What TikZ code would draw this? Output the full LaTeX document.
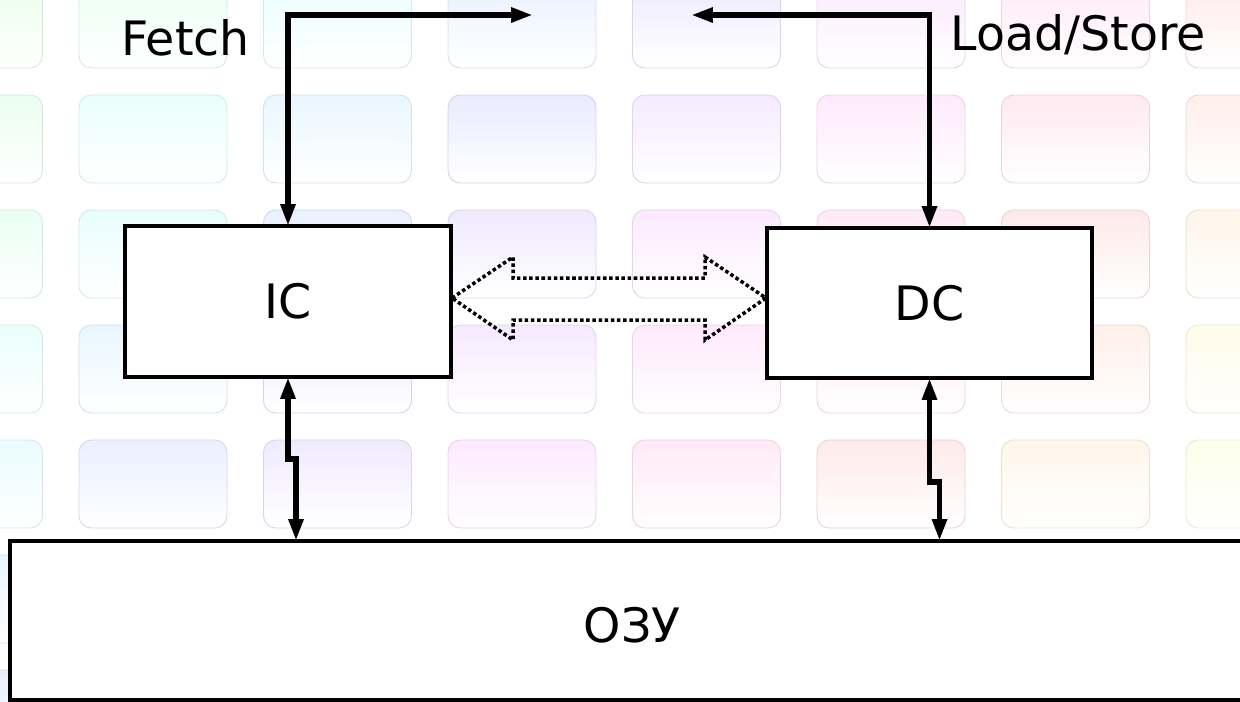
\PassOptionsToPackage{rgb}{xcolor}
\documentclass[tikz,border=0pt]{standalone}
\usepackage{fontspec}
\setmainfont{DejaVu Sans}
\usetikzlibrary{arrows.meta}
\begin{document}
\begin{tikzpicture}[x=0.02cm,y=-0.02cm,
  box/.style={draw, line width=2.2pt, fill=white, inner sep=0pt, outer sep=0pt, font=\fontsize{27}{32}\selectfont},
  lbl/.style={inner sep=0pt, font=\fontsize{27}{32}\selectfont},
  conn/.style={line width=3.3pt, {Triangle[length=12.5pt,width=8pt]}-{Triangle[length=12.5pt,width=8pt]}},
  hollow/.style={line width=2pt, dash pattern=on 2pt off 1.5pt, line join=miter}]
\useasboundingbox (0,0) rectangle (1240,701);
\begin{scope}
\clip (0,0) rectangle (1240,701);
\fill[white] (0,0) rectangle (1240,701);
\foreach \r in {0,...,6}{
  \foreach \k in {-1,...,6}{
    \pgfmathsetmacro\hh{mod(0.47+0.095*\k+0.05*(\r-1)+2,1)}
    \convertcolorspec{hsb}{\hh,0.085,1}{rgb}\tiletopspec
    \convertcolorspec{hsb}{\hh,0.10,0.92}{rgb}\tileedgespec
    \definecolor{tiletop}{rgb}{\tiletopspec}
    \definecolor{tileedge}{rgb}{\tileedgespec}
    \shade[top color=tiletop, bottom color=white, draw=tileedge, line width=0.5pt, rounded corners=7pt]
      ({79+184.5*\k},{-20+115*\r}) rectangle ++(148,88);
  }
}
\node[box, minimum width=24.9cm, minimum height=3.18cm] (ram) at (632.5,620.5) {};
\node[box] (ramlabel) at (632,625.5) [draw=none, fill=none] {ОЗУ};
\node[box, minimum width=6.52cm, minimum height=3.02cm] (ic) at (288,301.5) {IC};
\node[box, minimum width=6.5cm, minimum height=3.0cm] (dc) at (929.5,303) {DC};
\node[lbl, anchor=base] (fetch) at (185.5,55) {Fetch};
\node[lbl, anchor=base] (ls) at (1078.5,50) {Load/Store};
\coordinate (fetchend) at (533,15);
\coordinate (lsend) at (691,15);
\coordinate (ramic) at (296,541);
\coordinate (ramdc) at (939.5,541);
\draw[conn] (fetchend) -| (ic.north);
\draw[conn] (lsend) -| (dc.north);
\draw[conn] (ic.south) -- ++(0,82) -- ++(8,0) -- (ramic);
\draw[conn] (dc.south) -- ++(0,104) -- ++(10,0) -- (ramdc);
\draw[hollow] (452,298) -- (513,257) -- (513,278) -- (705,278) -- (705,257) -- (766,298)
  -- (705,340) -- (705,320) -- (513,320) -- (513,340) -- cycle;
\end{scope}
\end{tikzpicture}
\end{document}
